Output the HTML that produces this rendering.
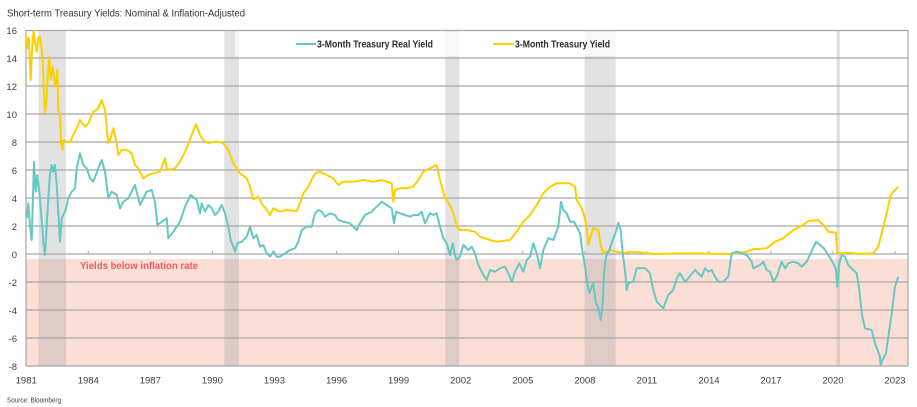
<!DOCTYPE html>
<html><head><meta charset="utf-8"><style>
html,body{margin:0;padding:0;background:#fff;}
svg{display:block;font-family:"Liberation Sans Narrow","Liberation Sans",sans-serif;}
</style></head><body>
<svg width="917" height="407" viewBox="0 0 917 407" xmlns="http://www.w3.org/2000/svg">
<rect x="0" y="0" width="917" height="407" fill="#fff"/>
<rect x="26" y="259" width="882" height="107" fill="#fbdfd7"/>
<g fill="rgb(150,150,150)" fill-opacity="0.28">
<rect x="38.5" y="31" width="27.5" height="335"/>
<rect x="224.3" y="31" width="14.7" height="335"/>
<rect x="445.3" y="31" width="14" height="335"/>
<rect x="584.5" y="31" width="31.2" height="335"/>
<rect x="836.5" y="31" width="3.5" height="335"/>
</g>
<g stroke="#a6a6a6" stroke-width="1.2">
<line x1="26" y1="30.5" x2="908" y2="30.5"/>
<line x1="26" y1="58" x2="908" y2="58"/>
<line x1="26" y1="86" x2="908" y2="86"/>
<line x1="26" y1="114" x2="908" y2="114"/>
<line x1="26" y1="142" x2="908" y2="142"/>
<line x1="26" y1="170" x2="908" y2="170"/>
<line x1="26" y1="198" x2="908" y2="198"/>
<line x1="26" y1="226" x2="908" y2="226"/>
<line x1="26" y1="254" x2="908" y2="254"/>
<line x1="26" y1="282" x2="908" y2="282"/>
<line x1="26" y1="310" x2="908" y2="310"/>
<line x1="26" y1="338" x2="908" y2="338"/>
<line x1="26" y1="366" x2="908" y2="366"/>
<line x1="26" y1="30" x2="26" y2="366"/>
<line x1="908" y1="30" x2="908" y2="366"/>
</g>
<g stroke="#a6a6a6" stroke-width="1">
<line x1="88.3" y1="251" x2="88.3" y2="254"/>
<line x1="150.3" y1="251" x2="150.3" y2="254"/>
<line x1="212.4" y1="251" x2="212.4" y2="254"/>
<line x1="274.5" y1="251" x2="274.5" y2="254"/>
<line x1="336.6" y1="251" x2="336.6" y2="254"/>
<line x1="398.6" y1="251" x2="398.6" y2="254"/>
<line x1="460.7" y1="251" x2="460.7" y2="254"/>
<line x1="522.8" y1="251" x2="522.8" y2="254"/>
<line x1="584.9" y1="251" x2="584.9" y2="254"/>
<line x1="646.9" y1="251" x2="646.9" y2="254"/>
<line x1="709" y1="251" x2="709" y2="254"/>
<line x1="771" y1="251" x2="771" y2="254"/>
<line x1="833" y1="251" x2="833" y2="254"/>
<line x1="895" y1="251" x2="895" y2="254"/>
</g>
<rect x="235" y="31.5" width="381" height="25" fill="#fff" fill-opacity="0.75"/>
<polyline fill="none" stroke="#fcd000" stroke-width="2" stroke-linejoin="round" points="
26.3,36 27.5,48 28.7,38 30.7,80 32,50 33.5,31 35,42 36.7,51.7 38.3,38 40,36.7 41.5,48 42.7,60 44,95 45,113 46.7,96.7 48,70 49.3,56.7 50.7,80 52.7,66.7 55,86.7 56,80 57.3,70 58.3,110 60,116.7 61,143.3 62.5,150 63.3,140 66.7,142 70,141.7 73.3,135 76.7,128 80,120 85,126.7 88.3,123.3 93.3,111.7 96.7,110 98.3,108.3 101.7,100 105,110 108.3,143.3 110.7,138.3 113.3,128.3 116.7,143.3 118.3,155 121.7,150 126.7,150 131.7,153.3 135,165 138.3,168.3 143.3,178.3 148.3,175 153.3,173.3 160,171.7 165,158.3 166.7,168.3 170,170 175,168.3 180,161.7 186.7,148.3 191.7,135 196,124.3 200,135 203.3,140 208.3,143.3 213.3,141.7 218.3,141.7 223.3,143.3 228.3,150 233.3,163.3 240,173.3 246.7,178.3 250,186.7 253.3,199.3 258.3,196.7 261.7,203.3 266.7,210 270,215 273.3,208.3 280,211.7 286.7,210 296.7,211 300,203.3 303.3,193.3 308.3,186.7 315,173.3 320,171.7 326.7,175 333.3,178.3 338.3,185 343.3,181.7 353.3,181.7 363.3,180 373.3,181.7 381.7,180 391.7,183.3 393.3,201.7 395,190 400,188.3 406.7,188.3 413.3,186.7 418.3,180 423.3,171.7 430,168.3 436.7,165 440,180 445,198.3 450,205 453.3,213.3 456.7,226.7 460,230 466.7,230 475,231.7 480,236.7 490,240 496.7,241.7 510,240 516.7,231.7 523.3,221.7 530,215 536.7,205 543.3,193.3 550,186.7 556.7,183.3 563.3,183.3 570,183.3 575,186.7 576.7,200 581.7,208.3 584,215 586.7,226.7 588.3,245 590,238.3 593.3,228.3 598.3,230 600.7,245 603.3,253.3 610,250 616.7,251.7 623.3,253.3 630,251.7 636.7,252 653,254 686.7,253.3 730,254 746.7,251.7 753.3,249.3 766.7,248.3 775,241.7 783.3,238.3 793.3,230 801.7,226 808.3,221 818.3,220 823.3,225 828.3,231.7 836,232.7 837.3,253.3 846.7,252.7 860,254 873.3,253.3 878.3,246.7 883.3,226.7 886.7,213.3 890.7,195 893.3,191.7 898.3,186.7"/>
<polyline fill="none" stroke="#66c8c2" stroke-width="2" stroke-linejoin="round" points="
26.7,218.3 28.3,203.3 30,225 31.7,240 34,161.7 35.7,191.7 37.3,175 39.3,191.7 41,211.7 43.3,241.7 45,255 46.7,225 48.3,198.3 50,175 51.7,165 53.3,171.7 55,165 56.7,185 58.3,211.7 60,241.7 61.7,218.3 65,211.7 68.3,198.3 71.7,191.7 75,188.3 76.7,168.3 80,153.3 83.3,165 86.7,168.3 90,178.3 93.3,181.7 98.3,168.3 101.7,160 105,171.7 108.3,198.3 111.7,191.7 116.7,195 120,208.3 123.3,201.7 128.3,198.3 135,185 140,205 146.7,191.7 151.7,190 155,201.7 157.3,225 161.7,221.7 166.7,218.3 168.3,238.3 173.3,231.7 180,221.7 185,206.7 190.7,195 196.7,200 200,213.3 201.7,203.3 205,211.7 208.3,205 211.7,208.3 215,215 218.3,211.7 221.7,205 225,213.3 228.3,226.7 230.7,240 233.3,246.7 235,251.7 237.3,243.3 241.7,241.7 246.7,236.7 250,226.7 253.3,238.3 256.7,235 260,246.7 263.3,245 266.7,253.3 270,256.7 273.3,251.7 276.7,256.7 280,256.7 285,253.3 290,250 295,248.3 298.3,241.7 301.7,230 306.7,226.7 311.7,226.7 315,213.3 318.3,210 321.7,211.7 325,216.7 330,213.3 335,215 338.3,220 343.3,221.7 350,223.3 356.7,230 360,223.3 365,215 371.7,211.7 376.7,206.7 381.7,201.7 386.7,205 391.7,208.3 394,223.3 396,211.7 400,213.3 405,215 410,216.7 413.3,215 418.3,215 421.7,211.7 425,223.3 430,213.3 433.3,215 436.7,213.3 440,226.7 443.3,238.3 446.7,243.3 450,255 452.7,243.3 455,255 456.7,260 460,256.7 463.3,245 468.3,250 471.7,246.7 475,253.3 478.3,265 483.3,275 486.7,280 490,270 495,271.7 500,268.3 505,266.7 510,276.7 511.7,281.7 515,271.7 519.3,263.3 523.3,271.7 526.7,260 530,256.7 533.3,243.3 536.7,253.3 540,268.3 543.3,250 548.3,238.3 553.3,240 558.3,226.7 561,201.7 563.3,210 566.7,213.3 570,221.7 574,221.7 576.7,226.7 580,233.3 582.7,253.3 585,266.7 587.3,283.3 589.3,293.3 591.7,286.7 593.3,283.3 595.7,301.7 598.3,308.3 600.7,320 602.7,303.3 604,273.3 606,256.7 609.3,250 612.7,240 616,231.7 618.3,222.7 620.7,230 622.7,253.3 625,270 626.7,290 628.3,283.3 633.3,281.7 636.7,268.3 645,268.3 650,273.3 653.3,290 656.7,301.7 663.3,308.3 668.3,295 673.3,290 676.7,278.3 680,273.3 685,281.7 688.3,278.3 695,270 698.3,273.3 701.7,276.7 705,268.3 708.3,271.7 711.7,270 715,276.7 718.3,281.7 723.3,281.7 728.3,276.7 731.7,253.3 736.7,251.7 746.7,255 751.7,261.7 753.3,268.3 760,265 763.3,261.7 766.7,270 770,271.7 773.3,281.7 776.7,276.7 781.7,261.7 785,268.3 788.3,263.3 793.3,261.7 798.3,263.3 801.7,266.7 806.7,261.7 810.7,253.3 816,241.7 820,245 824,248.3 828.3,255 833.3,263.3 836,270 837.3,286.7 839.3,263.3 841.7,255 845,256.7 848.3,265 853.3,270 856.7,273.3 859.3,290 861.7,313.3 865,328.3 871.7,330 875,343.3 880,356.7 880.7,365 883.3,358.3 886,353.3 888.3,336.7 891.7,313.3 895,286.7 898.3,276.7"/>
<line x1="296" y1="44" x2="316" y2="44" stroke="#66c8c2" stroke-width="2"/>
<text x="317" y="47.5" font-size="10.5" font-weight="bold" fill="#2a2a35" textLength="116" lengthAdjust="spacingAndGlyphs">3-Month Treasury Real Yield</text>
<line x1="493" y1="44" x2="514" y2="44" stroke="#fcd000" stroke-width="2"/>
<text x="515" y="47.5" font-size="10.5" font-weight="bold" fill="#2a2a35" textLength="95" lengthAdjust="spacingAndGlyphs">3-Month Treasury Yield</text>
<text x="80" y="269" font-size="10.5" font-weight="bold" fill="#ee5b63" textLength="118" lengthAdjust="spacingAndGlyphs">Yields below inflation rate</text>
<text x="7" y="16.3" font-size="10.5" fill="#333" textLength="238" lengthAdjust="spacingAndGlyphs">Short-term Treasury Yields: Nominal &amp; Inflation-Adjusted</text>
<g font-size="9.5" fill="#404040" text-anchor="end">
<text x="17" y="34">16</text>
<text x="17" y="62">14</text>
<text x="17" y="90">12</text>
<text x="17" y="118">10</text>
<text x="17" y="146">8</text>
<text x="17" y="174">6</text>
<text x="17" y="202">4</text>
<text x="17" y="230">2</text>
<text x="17" y="258">0</text>
<text x="17" y="286">-2</text>
<text x="17" y="314">-4</text>
<text x="17" y="342">-6</text>
<text x="17" y="370">-8</text>
</g>
<g font-size="9.5" fill="#404040" text-anchor="middle">
<text x="26.2" y="383.3">1981</text>
<text x="88.3" y="383.3">1984</text>
<text x="150.3" y="383.3">1987</text>
<text x="212.4" y="383.3">1990</text>
<text x="274.5" y="383.3">1993</text>
<text x="336.6" y="383.3">1996</text>
<text x="398.6" y="383.3">1999</text>
<text x="460.7" y="383.3">2002</text>
<text x="522.8" y="383.3">2005</text>
<text x="584.9" y="383.3">2008</text>
<text x="646.9" y="383.3">2011</text>
<text x="709" y="383.3">2014</text>
<text x="771" y="383.3">2017</text>
<text x="833" y="383.3">2020</text>
<text x="895" y="383.3">2023</text>
</g>
<text x="7" y="402.5" font-size="7.5" fill="#404040" textLength="54" lengthAdjust="spacingAndGlyphs">Source: Bloomberg</text>
</svg>
</body></html>
